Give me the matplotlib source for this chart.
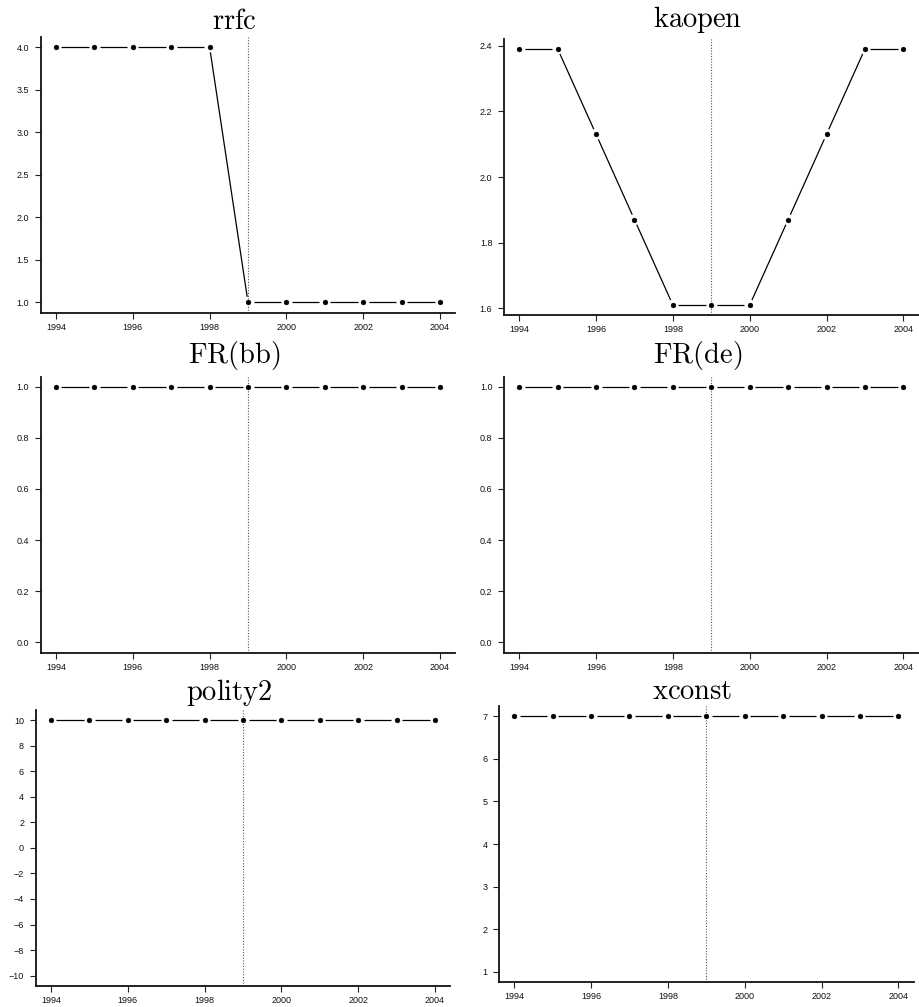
import numpy as np
import matplotlib
matplotlib.use("Agg")
import matplotlib.pyplot as plt

plt.rcParams['mathtext.fontset'] = 'cm'
plt.rcParams['font.family'] = ['Liberation Sans', 'DejaVu Sans']

# ---------------- data ----------------
years = [1994, 1995, 1996, 1997, 1998, 1999, 2000, 2001, 2002, 2003, 2004]
rrfc = [4, 4, 4, 4, 4, 1, 1, 1, 1, 1, 1]
kaopen = [2.39, 2.39, 2.13, 1.87, 1.61, 1.61, 1.61, 1.87, 2.13, 2.39, 2.39]
fr_bb = [1, 1, 1, 1, 1, 1, 1, 1, 1, 1, 1]
fr_de = [1, 1, 1, 1, 1, 1, 1, 1, 1, 1, 1]
polity2 = [10, 10, 10, 10, 10, 10, 10, 10, 10, 10, 10]
xconst = [7, 7, 7, 7, 7, 7, 7, 7, 7, 7, 7]

titles = ["rrfc", "kaopen", "FR(bb)", "FR(de)", "polity2", "xconst"]
series = [rrfc, kaopen, fr_bb, fr_de, polity2, xconst]
event_year = 1999

x_ticks = [1994, 1996, 1998, 2000, 2002, 2004]
y_ticks = [
    [1.0, 1.5, 2.0, 2.5, 3.0, 3.5, 4.0],
    [1.6, 1.8, 2.0, 2.2, 2.4],
    [0.0, 0.2, 0.4, 0.6, 0.8, 1.0],
    [0.0, 0.2, 0.4, 0.6, 0.8, 1.0],
    [-10, -8, -6, -4, -2, 0, 2, 4, 6, 8, 10],
    [1, 2, 3, 4, 5, 6, 7],
]
y_fmt = ["{:.1f}", "{:.1f}", "{:.1f}", "{:.1f}", "{:d}", "{:d}"]
y_range = [(1, 4), None, (0, 1), (0, 1), (-10, 10), (1, 7)]

# ---------------- layout (pixels) ----------------
W, H = 920, 1007
boxes = [  # left, right, top, bottom
    (40.6, 455.4, 36.8, 312.5),
    (503.9, 918.7, 38.7, 315.3),
    (40.6, 455.4, 376.5, 652.5),
    (503.9, 918.7, 376.5, 652.5),
    (35.6, 450.4, 709.8, 985.9),
    (498.9, 913.7, 705.8, 982.2),
]
title_pad_px = [8, 12, 13.5, 13.5, 9.8, 6.8]

fig = plt.figure(figsize=(W / 100, H / 100), dpi=100)
PX = 72 / 100.0  # points per pixel


def pad_range(lo, hi, f=0.04):
    d = (hi - lo) * f
    return lo - d, hi + d


for i in range(6):
    l, r, t, b = boxes[i]
    ax = fig.add_axes([l / W, 1 - b / H, (r - l) / W, (b - t) / H])
    y = series[i]
    yr = y_range[i] if y_range[i] is not None else (min(y), max(y))
    ax.set_xlim(*pad_range(min(years), max(years)))
    ax.set_ylim(*pad_range(*yr))

    # reference line
    ax.axvline(event_year, color="#555555", lw=0.8, ls=(0, (1, 1.5)), zorder=1)

    # R type="b": segments with gaps around points
    fig.canvas.draw()
    tr = ax.transData
    pts = tr.transform(np.column_stack([years, y]))
    gap = 5.5  # px
    for k in range(len(pts) - 1):
        p0, p1 = pts[k], pts[k + 1]
        d = p1 - p0
        L = np.hypot(*d)
        if L > 2 * gap:
            u = d / L
            a = tr.inverted().transform([p0 + u * gap, p1 - u * gap])
            ax.plot(a[:, 0], a[:, 1], color="black", lw=0.9, zorder=2,
                    solid_capstyle="butt")
    ax.plot(years, y, ls="none", marker="o", ms=3.5, mfc="black",
            mec="black", mew=0.3, zorder=3)

    # axes styling (R bty="l")
    for s in ["top", "right"]:
        ax.spines[s].set_visible(False)
    for s in ["left", "bottom"]:
        ax.spines[s].set_linewidth(1.3)
        ax.spines[s].set_color("#111111")
    ax.set_xticks(x_ticks)
    ax.set_xticklabels([str(v) for v in x_ticks])
    ax.set_yticks(y_ticks[i])
    ax.set_yticklabels([y_fmt[i].format(v).replace("-", "\u2212") for v in y_ticks[i]])
    ax.tick_params(axis="both", direction="out", length=4.3, width=0.8,
                   color="#222222", labelsize=6.5, labelcolor="#111111")
    ax.tick_params(axis="y", pad=4)
    ax.tick_params(axis="x", pad=3)

    ax.set_title(r"$\mathrm{" + titles[i] + "}$", fontsize=20.5,
                 x=0.5 - 14 / (r - l), pad=title_pad_px[i] * PX)

fig.savefig("out.png", dpi=100)
